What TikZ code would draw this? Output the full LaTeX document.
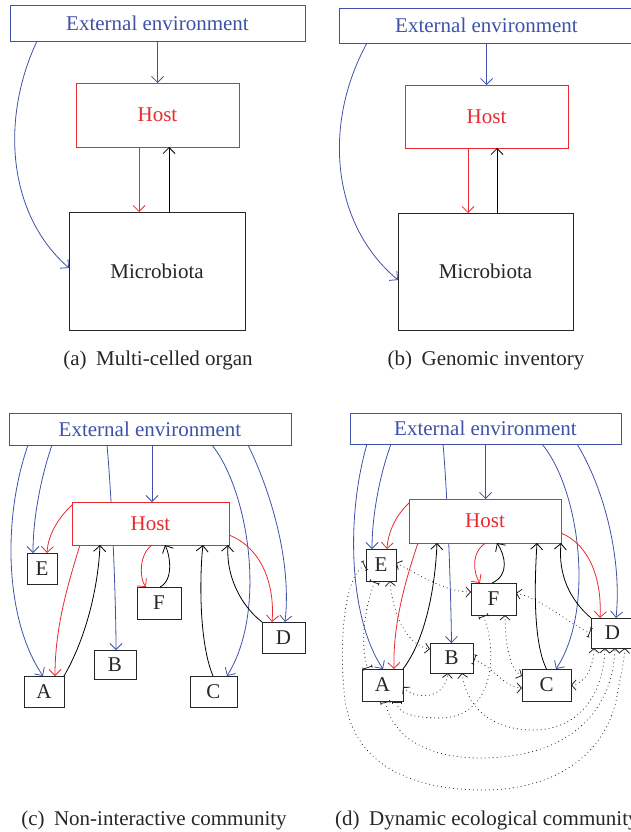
\documentclass[tikz,border=0pt]{standalone}
\usepackage{fontspec}
\setmainfont{Liberation Serif}
\usetikzlibrary{arrows.meta,backgrounds}
\definecolor{myblue}{RGB}{62,82,168}
\definecolor{myred}{RGB}{232,42,48}
\begin{document}
\begin{tikzpicture}[x=1pt,y=-1pt,
  every node/.style={font=\fontsize{21}{24}\selectfont},
  bx/.style={draw=black!85, line width=0.9pt, inner sep=0pt, outer sep=0pt, fill=white, text=black!85},
  bbox/.style={bx, draw=myblue, text=myblue},
  rbox/.style={bx, draw=myred, text=myred},
  con/.style={line width=0.8pt, -{Straight Barb[length=6pt,width=12pt]}},
  bl/.style={con, myblue},
  rd/.style={con, myred},
  bk/.style={con, black},
  dl/.style={line width=1.1pt, dash pattern=on 0pt off 4pt, line cap=round, black!85},
  bb/.style={dl, {Straight Barb[length=4.5pt,width=10pt,line width=0.8pt]}-{Straight Barb[length=4.5pt,width=10pt,line width=0.8pt]}},
  tt/.style={dl, {Tee Barb[length=3pt,width=10pt,line width=0.8pt]}-{Tee Barb[length=3pt,width=10pt,line width=0.8pt]}},
  tb/.style={dl, {Tee Barb[length=3pt,width=10pt,line width=0.8pt]}-{Straight Barb[length=4.5pt,width=10pt,line width=0.8pt]}},
  bt/.style={dl, {Straight Barb[length=4.5pt,width=10pt,line width=0.8pt]}-{Tee Barb[length=3pt,width=10pt,line width=0.8pt]}},
  captxt/.style={inner sep=0pt, text=black!85}
]
\path[use as bounding box, clip] (0,0) rectangle (631,832);

% ---------------- (a)
\node[bbox, minimum width=295pt, minimum height=36pt] (extA) at (157.5,23) {External environment};
\node[rbox, minimum width=163pt, minimum height=64pt] (hostA) at (157.5,115) {Host};
\node[bx, minimum width=176pt, minimum height=118pt] (micA) at (157,271) {Microbiota};
\draw[bl] (extA.south) -- (hostA.north);
\draw[rd] ([xshift=-18.5pt]hostA.south) -- ([xshift=-18.5pt]hostA.south |- micA.north);
\draw[bk] ([xshift=12pt]micA.north) -- ([xshift=12pt]micA.north |- hostA.south);
\draw[bl] ([xshift=-120.5pt]extA.south) .. controls (0,120) and (8,215) .. ([yshift=3pt]micA.west);
\node[captxt] (capA) at (158,360) {(a)\hspace{0.45em}Multi-celled organ};

% ---------------- (b)
\node[bbox, minimum width=295pt, minimum height=35pt] (extB) at (486.5,25.5) {External environment};
\node[rbox, minimum width=163pt, minimum height=63pt] (hostB) at (486.5,116.5) {Host};
\node[bx, minimum width=175pt, minimum height=117pt] (micB) at (485.5,271.5) {Microbiota};
\draw[bl] (extB.south) -- (hostB.north);
\draw[rd] ([xshift=-18.5pt]hostB.south) -- ([xshift=-18.5pt]hostB.south |- micB.north);
\draw[bk] ([xshift=11.5pt]micB.north) -- ([xshift=11.5pt]micB.north |- hostB.south);
\draw[bl] ([xshift=-119.5pt]extB.south) .. controls (322,125) and (332,225) .. ([yshift=-8.5pt]micB.west);
\node[captxt] (capB) at (486,360) {(b)\hspace{0.45em}Genomic inventory};

% ---------------- (c)
\node[bbox, minimum width=282pt, minimum height=32pt] (extC) at (150,429) {External environment};
\node[rbox, minimum width=157pt, minimum height=43pt] (hostC) at (150.5,523.5) {Host};
\node[bx, minimum width=30pt, minimum height=31pt] (Ec) at (42,568.5) {E};
\node[bx, minimum width=44pt, minimum height=32pt] (Fc) at (159,603) {F};
\node[bx, minimum width=43pt, minimum height=31pt] (Dc) at (283.5,637.5) {D};
\node[bx, minimum width=42pt, minimum height=29pt] (Bc) at (115,664.5) {B};
\node[bx, minimum width=40pt, minimum height=31pt] (Ac) at (44,691.5) {A};
\node[bx, minimum width=47pt, minimum height=31pt] (Cc) at (213.5,691.5) {C};
\begin{pgfonlayer}{background}
\draw[bl] ([xshift=98pt]extC.south west) .. controls (112,500) and (116,600) .. ([xshift=1pt]Bc.north);
\end{pgfonlayer}
\draw[bl] ([xshift=19pt]extC.south west) .. controls (2,520) and (5,620) .. ([xshift=-1pt]Ac.north);
\draw[bl] ([xshift=43pt]extC.south west) .. controls (40,480) and (33,520) .. ([xshift=-9pt]Ec.north);
\draw[bl] ([xshift=2pt]extC.south) -- ([xshift=2pt]extC.south |- hostC.north);
\draw[bl] ([xshift=203pt]extC.south west) .. controls (248,490) and (268,610) .. ([xshift=13.5pt]Cc.north);
\draw[bl] ([xshift=239pt]extC.south west) .. controls (270,490) and (292,560) .. ([xshift=1.5pt]Dc.north);
\draw[rd] ([yshift=-3pt]hostC.north west) .. controls (58,518) and (48,535) .. ([xshift=5pt]Ec.north);
\draw[rd] ([xshift=-70.5pt]hostC.south) .. controls (66,590) and (55,630) .. ([xshift=11pt]Ac.north);
\draw[rd] ([xshift=1.5pt]hostC.south) .. controls (138,555) and (140,580) .. ([xshift=-13pt]Fc.north);
\draw[rd] ([yshift=-11.5pt]hostC.east) .. controls (262,548) and (275,585) .. ([xshift=-11.5pt]Dc.north);
\draw[bk] (Ac.north east) .. controls (85,640) and (98,590) .. ([xshift=-50.5pt]hostC.south);
\draw[bk] ([xshift=1pt]Fc.north) .. controls (174,580) and (170,555) .. ([xshift=14.5pt]hostC.south);
\draw[bk] ([xshift=-0.5pt]Cc.north) .. controls (198,640) and (200,570) .. ([xshift=52.5pt]hostC.south);
\draw[bk] (Dc.north west) .. controls (240,605) and (226,575) .. ([xshift=77.5pt]hostC.south);
\node[captxt] (capC) at (154,820) {(c)\hspace{0.45em}Non-interactive community};

% ---------------- (d)
\node[bbox, minimum width=271pt, minimum height=31pt] (extD) at (485.5,428.5) {External environment};
\node[rbox, minimum width=152pt, minimum height=44pt] (hostD) at (485,521) {Host};
\node[bx, minimum width=30pt, minimum height=32pt] (Ed) at (381,565) {E};
\node[bx, minimum width=45pt, minimum height=32pt] (Fd) at (493.5,599) {F};
\node[bx, minimum width=43pt, minimum height=30pt] (Dd) at (612.5,633) {D};
\node[bx, minimum width=43pt, minimum height=30pt] (Bd) at (451.5,658) {B};
\node[bx, minimum width=49pt, minimum height=32pt] (Cd) at (546.5,685) {C};
\node[bx, minimum width=41pt, minimum height=32pt] (Ad) at (382.5,685) {A};
\begin{pgfonlayer}{background}
\draw[bl] ([xshift=93pt]extD.south west) .. controls (448,500) and (451,600) .. (Bd.north);
\end{pgfonlayer}
\draw[bl] ([xshift=17pt]extD.south west) .. controls (345,520) and (350,620) .. ([xshift=0.5pt]Ad.north);
\draw[bl] ([xshift=41pt]extD.south west) .. controls (378,480) and (372,520) .. ([xshift=-9pt]Ed.north);
\draw[bl] (extD.south) -- (extD.south |- hostD.north);
\draw[bl] ([xshift=192pt]extD.south west) .. controls (580,490) and (595,610) .. ([xshift=9.5pt]Cd.north);
\draw[bl] ([xshift=227pt]extD.south west) .. controls (605,490) and (622,560) .. ([xshift=3.5pt]Dd.north);
\draw[rd] ([yshift=-4pt]hostD.north west) .. controls (396,515) and (388,532) .. ([xshift=6pt]Ed.north);
\draw[rd] ([xshift=-67pt]hostD.south) .. controls (402,590) and (393,630) .. ([xshift=11.5pt]Ad.north);
\draw[rd] ([xshift=1pt]hostD.south) .. controls (470,552) and (474,575) .. ([xshift=-13.5pt]Fd.north);
\draw[rd] ([yshift=-12pt]hostD.east) .. controls (590,545) and (602,580) .. ([xshift=-12.5pt]Dd.north);
\draw[bk] (Ad.north east) .. controls (425,640) and (435,590) .. ([xshift=-48pt]hostD.south);
\draw[bk] ([xshift=-1.5pt]Fd.north) .. controls (510,575) and (505,555) .. ([xshift=12pt]hostD.south);
\draw[bk] (Cd.north) .. controls (532,640) and (535,575) .. ([xshift=52pt]hostD.south);
\draw[bk] (Dd.north west) .. controls (570,600) and (558,575) .. ([xshift=76pt]hostD.south);
% dotted interactions
\draw[tt] ([xshift=-6pt]Ed.south) .. controls (364,610) and (360,645) .. ([xshift=-14.5pt]Ad.north);
\draw[bb] ([xshift=9pt]Ed.south) .. controls (392,610) and (405,645) .. ([yshift=9pt]Bd.west);
\draw[bb] ([yshift=2pt]Ed.east) .. controls (420,575) and (445,592) .. ([yshift=7pt]Fd.west);
\draw[tb] (Ed.west) .. controls (345,575) and (338,640) .. (345,700)
   .. controls (355,770) and (420,790) .. (483,790)
   .. controls (560,790) and (610,750) .. (618,690)
   .. controls (622,670) and (624,660) .. ([xshift=12.5pt]Dd.south);
\draw[bt] ([yshift=6pt]Fd.east) .. controls (545,600) and (570,625) .. (Dd.west);
\draw[bb] ([xshift=11.5pt]Fd.south) .. controls (505,645) and (510,670) .. ([yshift=9pt]Cd.west);
\draw[tt] ([xshift=-10.5pt]Fd.south) .. controls (500,660) and (490,718) .. (440,718)
   .. controls (410,718) and (397,712) .. ([xshift=14.5pt]Ad.south);
\draw[tb] ([yshift=-1pt]Bd.east) .. controls (490,665) and (505,688) .. ([yshift=-3pt]Cd.west);
\draw[bb] ([yshift=-2pt]Ad.east) .. controls (415,700) and (445,700) .. ([xshift=-3.5pt]Bd.south);
\draw[bb] ([xshift=10.5pt]Bd.south) .. controls (468,715) and (500,730) .. (533,730)
   .. controls (575,730) and (603,700) .. ([xshift=-7.5pt]Dd.south);
\draw[tb] ([xshift=2.5pt]Ad.south) .. controls (395,745) and (440,758) .. (480,758)
   .. controls (560,758) and (612,720) .. ([xshift=2.5pt]Dd.south);
\draw[bb] (Cd.east) .. controls (585,685) and (594,665) .. ([xshift=-18.5pt]Dd.south);
\node[captxt, anchor=west] (capD) at (335,820) {(d)\hspace{0.45em}Dynamic ecological community};
\end{tikzpicture}
\end{document}
